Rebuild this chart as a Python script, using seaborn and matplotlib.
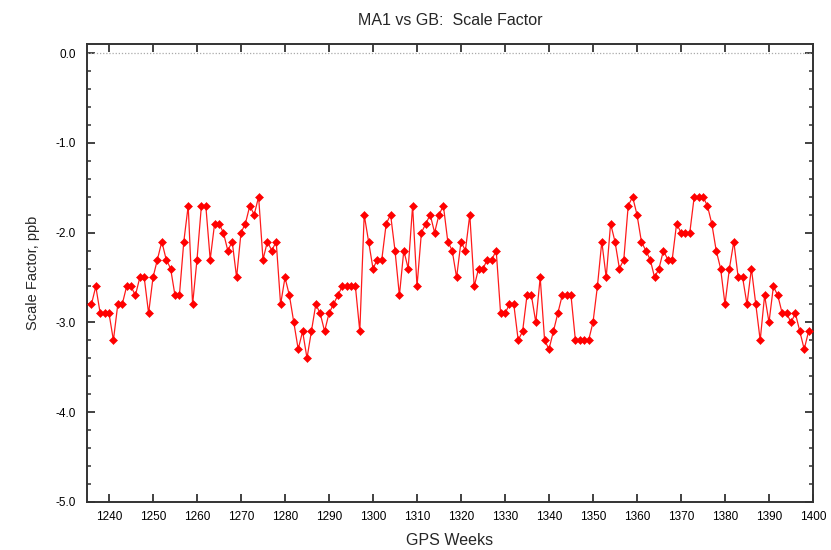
import numpy as np
import pandas as pd
import matplotlib
matplotlib.use("Agg")
import matplotlib.pyplot as plt
from matplotlib.ticker import MultipleLocator, FormatStrFormatter
import seaborn as sns

# GPS week numbers (one solution per week)
weeks = np.arange(1236, 1400)

# Scale factor of MA1 relative to GB, in ppb
scale_factor = [
    -2.8, -2.6, -2.9, -2.9, -2.9, -3.2, -2.8, -2.8, -2.6, -2.6,   # 1236-1245
    -2.7, -2.5, -2.5, -2.9, -2.5, -2.3, -2.1, -2.3, -2.4, -2.7,   # 1246-1255
    -2.7, -2.1, -1.7, -2.8, -2.3, -1.7, -1.7, -2.3, -1.9, -1.9,   # 1256-1265
    -2.0, -2.2, -2.1, -2.5, -2.0, -1.9, -1.7, -1.8, -1.6, -2.3,   # 1266-1275
    -2.1, -2.2, -2.1, -2.8, -2.5, -2.7, -3.0, -3.3, -3.1, -3.4,   # 1276-1285
    -3.1, -2.8, -2.9, -3.1, -2.9, -2.8, -2.7, -2.6, -2.6, -2.6,   # 1286-1295
    -2.6, -3.1, -1.8, -2.1, -2.4, -2.3, -2.3, -1.9, -1.8, -2.2,   # 1296-1305
    -2.7, -2.2, -2.4, -1.7, -2.6, -2.0, -1.9, -1.8, -2.0, -1.8,   # 1306-1315
    -1.7, -2.1, -2.2, -2.5, -2.1, -2.2, -1.8, -2.6, -2.4, -2.4,   # 1316-1325
    -2.3, -2.3, -2.2, -2.9, -2.9, -2.8, -2.8, -3.2, -3.1, -2.7,   # 1326-1335
    -2.7, -3.0, -2.5, -3.2, -3.3, -3.1, -2.9, -2.7, -2.7, -2.7,   # 1336-1345
    -3.2, -3.2, -3.2, -3.2, -3.0, -2.6, -2.1, -2.5, -1.9, -2.1,   # 1346-1355
    -2.4, -2.3, -1.7, -1.6, -1.8, -2.1, -2.2, -2.3, -2.5, -2.4,   # 1356-1365
    -2.2, -2.3, -2.3, -1.9, -2.0, -2.0, -2.0, -1.6, -1.6, -1.6,   # 1366-1375
    -1.7, -1.9, -2.2, -2.4, -2.8, -2.4, -2.1, -2.5, -2.5, -2.8,   # 1376-1385
    -2.4, -2.8, -3.2, -2.7, -3.0, -2.6, -2.7, -2.9, -2.9, -3.0,   # 1386-1395
    -2.9, -3.1, -3.3, -3.1,                                       # 1396-1399
]

x_ticks = np.arange(1240, 1401, 10)
y_ticks = [0.0, -1.0, -2.0, -3.0, -4.0, -5.0]

df = pd.DataFrame({"week": weeks, "scale": scale_factor})

sns.set_style("white")
plt.rcParams["font.family"] = ["Liberation Sans", "DejaVu Sans"]
plt.rcParams["axes.unicode_minus"] = True

ink = "#333333"
fig = plt.figure(figsize=(8.31, 5.50), dpi=100)
ax = fig.add_axes([87 / 831, 1 - 501.7 / 550, (813 - 87) / 831, (501.7 - 44.3) / 550])

# zero reference line
ax.axhline(0.0, color="#aaaaaa", lw=0.9, ls=(0, (1, 1.5)), zorder=1)

sns.lineplot(data=df, x="week", y="scale", ax=ax, color="#ff1a1a", lw=0.9,
             marker="D", markersize=4.2, markeredgewidth=0.4,
             markeredgecolor="red", markerfacecolor="red", zorder=3)

ax.set_xlim(1235, 1400)
ax.set_ylim(-5.0, 0.1)
ax.set_xticks(x_ticks)
ax.set_yticks(y_ticks)
ax.yaxis.set_minor_locator(MultipleLocator(0.2))
ax.yaxis.set_major_formatter(FormatStrFormatter("%.1f"))

for sp in ax.spines.values():
    sp.set_visible(True)
    sp.set_color(ink)
    sp.set_linewidth(1.4)

ax.tick_params(axis="both", which="major", direction="in", length=6, width=1.3,
               color=ink, labelsize=8.5, labelcolor="black",
               top=True, right=True, bottom=True, left=True)
ax.tick_params(axis="y", which="minor", direction="in", length=3, width=1.1,
               color=ink, left=True, right=True)
ax.tick_params(axis="x", which="major", pad=7)
ax.tick_params(axis="y", which="major", pad=8)

ax.set_xlabel("GPS Weeks", fontsize=11.5, labelpad=7)
ax.set_ylabel("Scale Factor, ppb", fontsize=10.5, labelpad=11)
ax.set_title("MA1 vs GB:  Scale Factor", fontsize=11.5, pad=14)

fig.savefig("out.png", dpi=100, facecolor="white")
